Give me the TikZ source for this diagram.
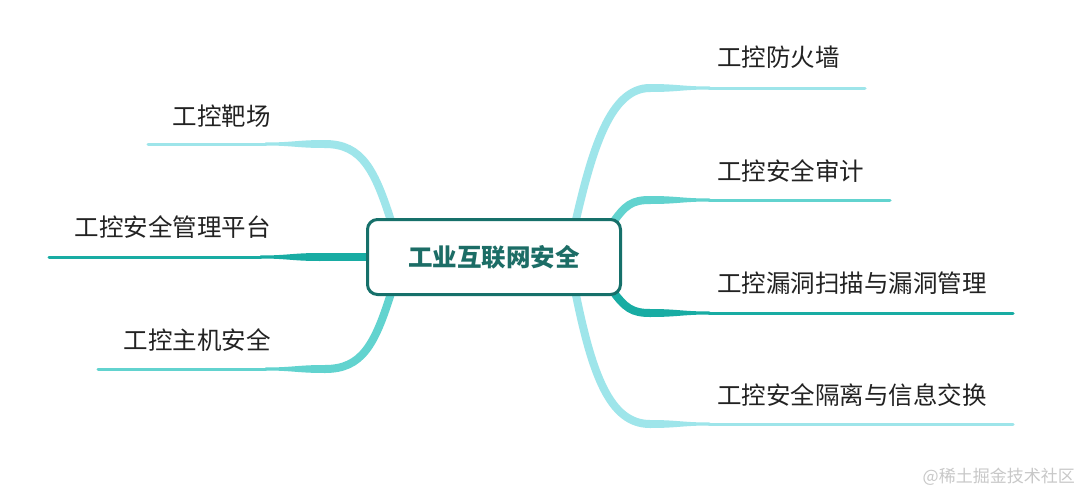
\documentclass[tikz,border=0pt]{standalone}
\usepackage{fontspec}
\setmainfont{Noto Sans CJK SC}
\usetikzlibrary{calc,backgrounds}
\definecolor{cLight}{HTML}{9EE5EA}
\definecolor{cMid}{HTML}{62D3CF}
\definecolor{cDark}{HTML}{18ACA3}
\definecolor{hubline}{HTML}{16706A}
\definecolor{hubtext}{HTML}{1C6D66}
\definecolor{txt}{HTML}{222222}
\definecolor{wm}{HTML}{C8C8C8}
% taper: colour, knee coordinate, direction (+1 right / -1 left), end coordinate
\newcommand\mmtaper[4]{%
  \fill[#1] ($(#2)+(0,-4)$) .. controls ($(#2)+(#3*28,-4)$) and ($(#2)+(#3*32,-1.5)$) .. ($(#2)+(#3*60,-1.5)$)
     -- ($(#2)+(#3*60,1.5)$) .. controls ($(#2)+(#3*32,1.5)$) and ($(#2)+(#3*28,4)$) .. ($(#2)+(0,4)$) -- cycle;
  \draw[#1, line width=3, line cap=round] ($(#2)+(#3*59,0)$) -- (#4);}
\begin{document}
\begin{tikzpicture}[x=1pt,y=-1pt,
  lbl/.style={inner sep=0, text=txt, font=\fontsize{24.5}{24.5}\selectfont},
  curv/.style={line width=8}]
\useasboundingbox (0,0) rectangle (1080,493);
\node[draw=hubline, line width=3, rounded corners=10, fill=white,
      minimum width=253, minimum height=75, inner sep=0,
      font=\bfseries\fontsize{24.5}{24.5}\selectfont, text=hubtext] (hub) at (494,257) {工业互联网安全};

% coordinates
\coordinate (r1) at ($(hub.center)+(81,-33)$);
\coordinate (r2) at ($(hub.center)+(118,-33)$);
\coordinate (r3) at ($(hub.center)+(118,33)$);
\coordinate (r4) at ($(hub.center)+(81,33)$);
\coordinate (l1) at ($(hub.center)+(-102,-33)$);
\coordinate (l3) at ($(hub.center)+(-102,33)$);
\coordinate (k1) at (650,88);   \coordinate (e1) at (865,88);
\coordinate (k2) at (650,200);  \coordinate (e2) at (890,200);
\coordinate (k3) at (650,313);  \coordinate (e3) at (1013,313);
\coordinate (k4) at (650,424);  \coordinate (e4) at (1013,424);
\coordinate (kl1) at (325,144); \coordinate (el1) at (148,144);
\coordinate (kl2) at (320,257); \coordinate (el2) at (49,257);
\coordinate (kl3) at (325,369); \coordinate (el3) at (98,369);

\begin{pgfonlayer}{background}
  \fill[white] (0,0) rectangle (1080,493);
  % right
  \draw[cLight, curv] (r1) .. controls (592,150) and (610,88) .. (k1);
  \mmtaper{cLight}{k1}{1}{e1}
  \draw[cMid, curv] (r2) .. controls (625,205) and (632,200) .. (k2);
  \mmtaper{cMid}{k2}{1}{e2}
  \draw[cDark, curv] (r3) .. controls (625,308) and (632,313) .. (k3);
  \mmtaper{cDark}{k3}{1}{e3}
  \draw[cLight, curv] (r4) .. controls (592,375) and (610,424) .. (k4);
  \mmtaper{cLight}{k4}{1}{e4}
  % left
  \draw[cLight, curv] (l1) .. controls (375,170) and (362,144) .. (kl1);
  \mmtaper{cLight}{kl1}{-1}{el1}
  \draw[cDark, curv] (hub.center) -- (kl2);
  \mmtaper{cDark}{kl2}{-1}{el2}
  \draw[cMid, curv] (l3) .. controls (375,345) and (362,369) .. (kl3);
  \mmtaper{cMid}{kl3}{-1}{el3}
\end{pgfonlayer}

% labels
\node[lbl, anchor=west] (t1) at (717,57) {工控防火墙};
\node[lbl, anchor=west] (t2) at (717,171) {工控安全审计};
\node[lbl, anchor=west] (t3) at (717,283) {工控漏洞扫描与漏洞管理};
\node[lbl, anchor=west] (t4) at (717,395) {工控安全隔离与信息交换};
\node[lbl, anchor=east] (tl1) at (271,116) {工控靶场};
\node[lbl, anchor=east] (tl2) at (271,227) {工控安全管理平台};
\node[lbl, anchor=east] (tl3) at (271,340) {工控主机安全};

\node[anchor=east, inner sep=0, text=wm, font=\fontsize{17}{17}\selectfont] (wmk) at (1075,477) {@稀土掘金技术社区};
\end{tikzpicture}
\end{document}
